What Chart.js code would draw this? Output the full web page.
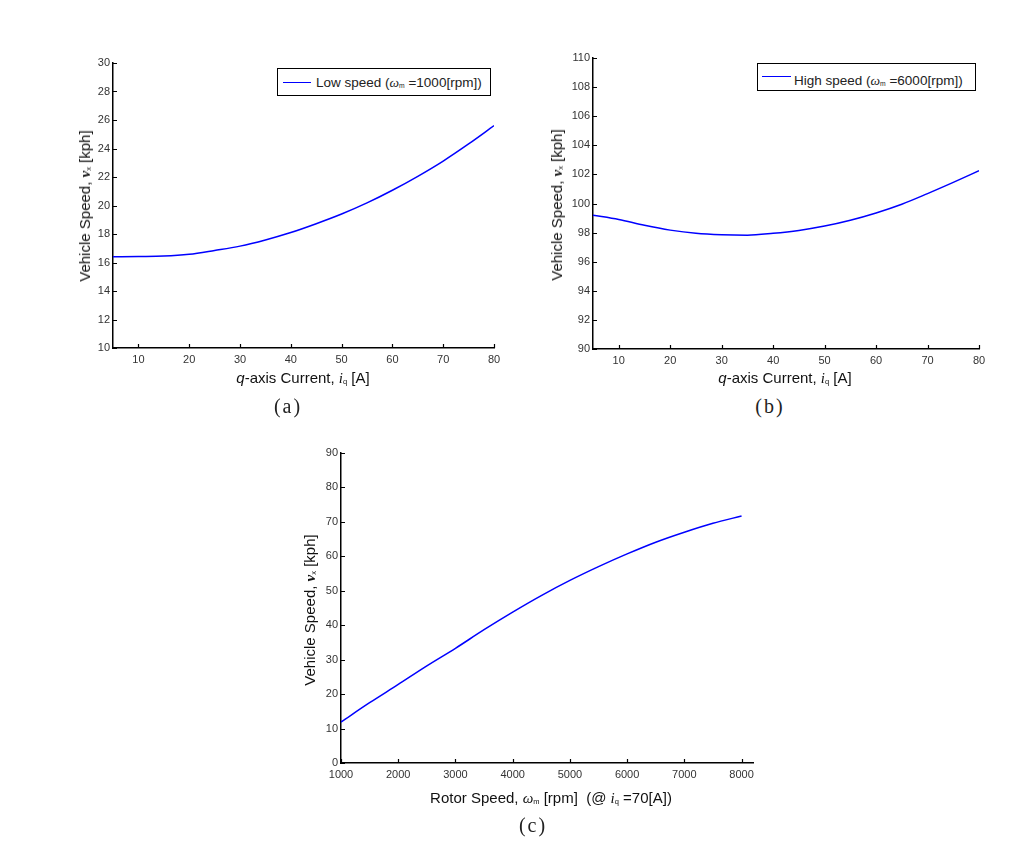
<!DOCTYPE html>
<html>
<head>
<meta charset="utf-8">
<script src="https://cdn.jsdelivr.net/npm/chart.js@4/dist/chart.umd.min.js"></script>
<style>
  html, body { margin:0; padding:0; background:#fff; }
  body { width:1034px; height:846px; position:relative; overflow:hidden; font-family:"Liberation Sans", Arial, sans-serif; }
  canvas { position:absolute; }
  .t { position:absolute; white-space:nowrap; color:#111; font-size:15px; line-height:1; }
  .yt { transform:translate(-50%,-50%) rotate(-90deg); }
  .xt { transform:translate(-50%,-50%); }
  .m { font-family:"Liberation Serif", serif; font-style:italic; }
  sub { font-size:0.5em; vertical-align:-0.15em; }
  .cap { position:absolute; font-family:"Liberation Serif", serif; font-size:20px; letter-spacing:2px; transform:translate(-50%,-50%); color:#222; }
  .leg { position:absolute; border:1.5px solid #000; background:#fff; box-sizing:border-box; font-size:13.5px; color:#222; }
  .leg .ln { position:absolute; height:0; border-top:1.5px solid #0000ff; }
  .leg .lt { position:absolute; white-space:nowrap; transform:translateY(-50%); }
</style>
</head>
<body>
<canvas id="ca"></canvas>
<canvas id="cb"></canvas>
<canvas id="cc"></canvas>

<div class="leg" style="left:277px;top:68px;width:214px;height:28px;">
  <div class="ln" style="left:5px;width:28px;top:13px;"></div>
  <div class="lt" style="left:38px;top:14px;">Low speed (<span class="m">ω</span><sub>m</sub> =1000[rpm])</div>
</div>
<div class="leg" style="left:757px;top:63px;width:219px;height:28px;">
  <div class="ln" style="left:4px;width:29px;top:12px;"></div>
  <div class="lt" style="left:36px;top:17px;">High speed (<span class="m">ω</span><sub>m</sub> =6000[rpm])</div>
</div>

<div class="t yt" style="left:85px;top:206px;">Vehicle Speed, <b class="m">ν</b><sub>x</sub> [kph]</div>
<div class="t yt" style="left:557px;top:205px;">Vehicle Speed, <b class="m">ν</b><sub>x</sub> [kph]</div>
<div class="t yt" style="left:310px;top:610px;">Vehicle Speed, <b class="m">ν</b><sub>x</sub> [kph]</div>

<div class="t xt" style="left:303px;top:378px;"><i>q</i>-axis Current, <span class="m">i</span><sub>q</sub> [A]</div>
<div class="t xt" style="left:785px;top:378px;"><i>q</i>-axis Current, <span class="m">i</span><sub>q</sub> [A]</div>
<div class="t xt" style="left:551px;top:798px;">Rotor Speed, <span class="m">ω</span><sub>m</sub> [rpm] &nbsp;(@ <span class="m">i</span><sub>q</sub> =70[A])</div>

<div class="cap" style="left:288px;top:406px;">(a)</div>
<div class="cap" style="left:770px;top:406px;">(b)</div>
<div class="cap" style="left:533px;top:825px;">(c)</div>

<script>
// ---- data ----
const currentA = [5, 10, 15, 20, 25, 30, 35, 40, 45, 50, 55, 60, 65, 70, 75, 80];
const lowSpeed = [16.4, 16.42, 16.45, 16.58, 16.85, 17.15, 17.58, 18.1, 18.72, 19.4, 20.18, 21.07, 22.05, 23.12, 24.32, 25.6];
const highSpeed = [99.2, 98.9, 98.5, 98.17, 97.95, 97.85, 97.82, 97.95, 98.15, 98.45, 98.85, 99.35, 99.95, 100.68, 101.45, 102.25];
const rotorRpm = [1000, 1500, 2000, 2500, 3000, 3500, 4000, 4500, 5000, 5500, 6000, 6500, 7000, 7500, 8000];
const speedAt70A = [11.9, 17.5, 22.8, 28.2, 33.3, 38.7, 43.8, 48.6, 53.0, 57.0, 60.7, 64.1, 67.0, 69.6, 71.7];

const xTicksAB = [10, 20, 30, 40, 50, 60, 70, 80];
const yTicksA = [10, 12, 14, 16, 18, 20, 22, 24, 26, 28, 30];
const yTicksB = [90, 92, 94, 96, 98, 100, 102, 104, 106, 108, 110];
const xTicksC = [1000, 2000, 3000, 4000, 5000, 6000, 7000, 8000];
const yTicksC = [0, 10, 20, 30, 40, 50, 60, 70, 80, 90];

// ---- helpers ----
const YW = 40, XH = 30, PT = 10, PR = 16;

const inwardTicks = {
  id: 'inwardTicks',
  afterDraw(chart) {
    const ctx = chart.ctx, a = chart.chartArea;
    const xs = chart.scales.x, ys = chart.scales.y;
    ctx.save();
    ctx.strokeStyle = '#000';
    ctx.lineWidth = 1.2;
    ctx.beginPath();
    xs.ticks.forEach(t => {
      const p = Math.round(xs.getPixelForValue(t.value)) + 0.5;
      ctx.moveTo(p, a.bottom); ctx.lineTo(p, a.bottom - 4);
    });
    ys.ticks.forEach(t => {
      const p = Math.round(ys.getPixelForValue(t.value)) + 0.5;
      ctx.moveTo(a.left, p); ctx.lineTo(a.left + 4, p);
    });
    ctx.stroke();
    ctx.restore();
  }
};

function makeChart(id, area, xs, ys, xMin, xMax, xTicks, yMin, yMax, yTicks) {
  const cv = document.getElementById(id);
  const w = (area.r - area.l) + YW + PR;
  const h = (area.b - area.t) + PT + XH;
  cv.style.left = (area.l - YW) + 'px';
  cv.style.top = (area.t - PT) + 'px';
  cv.style.width = w + 'px';
  cv.style.height = h + 'px';
  cv.width = w; cv.height = h;
  const tickFont = { family: '"Liberation Sans", Arial, sans-serif', size: 11 };
  return new Chart(cv, {
    type: 'line',
    data: {
      datasets: [{
        data: xs.map((x, i) => ({ x: x, y: ys[i] })),
        borderColor: '#0000ff',
        borderWidth: 1.5,
        pointRadius: 0,
        tension: 0.4,
        cubicInterpolationMode: 'monotone',
        fill: false
      }]
    },
    options: {
      responsive: false,
      animation: false,
      devicePixelRatio: 1,
      layout: { padding: { top: PT, right: PR, left: 0, bottom: 0 } },
      plugins: { legend: { display: false }, tooltip: { enabled: false } },
      scales: {
        x: {
          type: 'linear', min: xMin, max: xMax,
          grid: { display: false, drawTicks: false },
          border: { display: true, color: '#000', width: 1.5 },
          ticks: { font: tickFont, color: '#333', padding: 5, maxRotation: 0, autoSkip: false, callback: v => String(v) },
          afterBuildTicks: s => { s.ticks = xTicks.map(v => ({ value: v })); },
          afterFit: s => { s.height = XH; }
        },
        y: {
          type: 'linear', min: yMin, max: yMax,
          grid: { display: false, drawTicks: false },
          border: { display: true, color: '#000', width: 1.5 },
          ticks: { font: tickFont, color: '#333', padding: 3, autoSkip: false, callback: v => String(v) },
          afterBuildTicks: s => { s.ticks = yTicks.map(v => ({ value: v })); },
          afterFit: s => { s.width = YW; }
        }
      }
    },
    plugins: [inwardTicks]
  });
}

makeChart('ca', { l: 113, t: 63, r: 494, b: 348 }, currentA, lowSpeed, 5, 80, xTicksAB, 10, 30, yTicksA);
makeChart('cb', { l: 593, t: 58, r: 979, b: 349 }, currentA, highSpeed, 5, 80, xTicksAB, 90, 110, yTicksB);
makeChart('cc', { l: 341, t: 453, r: 753, b: 763 }, rotorRpm, speedAt70A, 1000, 8200, xTicksC, 0, 90, yTicksC);
</script>
</body>
</html>
